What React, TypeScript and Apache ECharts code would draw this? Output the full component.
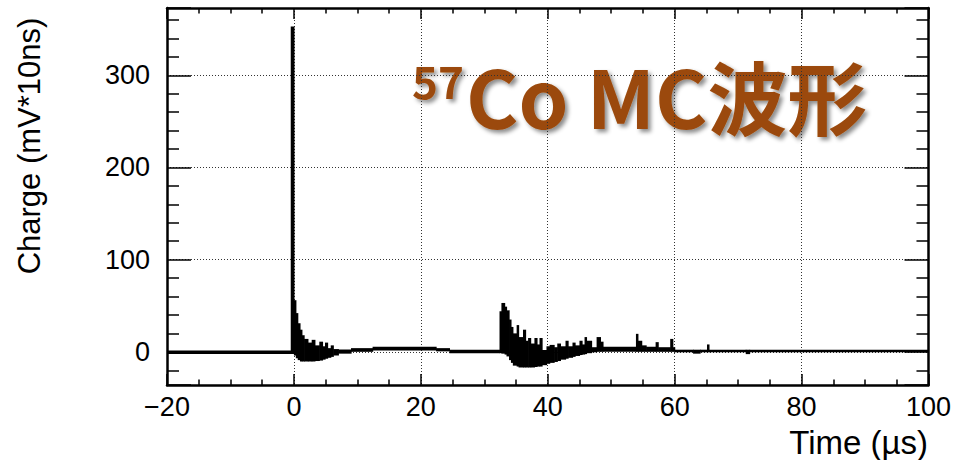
import React, { useEffect, useRef } from "react";
import * as echarts from "echarts";

// Histogram envelope: each bin spans [binEdges[i], binEdges[i+1]] in µs,
// filled between binLow[i] and binHigh[i] (mV*10ns)
const binEdges = [
  -20, -0.5, 0, 0.3, 0.6, 0.95, 1.25, 1.6, 2.2, 2.8, 3.3, 4.0, 4.5, 4.9, 5.3, 5.8, 6.2, 7.0, 9.0,
  12.4, 22.4, 24.5, 32.4, 32.7, 33.2, 33.5, 33.9, 34.2, 34.5, 35.1, 35.4, 36.1, 36.5, 36.9, 37.3,
  37.9, 38.3, 38.7, 39.1, 39.8, 40.3, 41.0, 41.5, 42.0, 42.8, 43.2, 43.9, 44.3, 45.0, 45.4, 45.8,
  46.1, 46.9, 47.7, 48.3, 48.7, 53.9, 54.2, 54.8, 55.5, 57.0, 57.4, 59.3, 59.7, 60.0, 62.9, 64.0,
  65.1, 65.4, 71.2, 71.8, 100,
];
const binLow = [
  -2.5, -2.5, -4, -7, -9, -10.5, -10.5, -10.5, -10.5, -10.5, -10, -9.5, -8.5, -7.5, -6.5, -5.5, -4,
  -2, 0, 1.5, 0.5, -1.5, -1.5, -2, -3, -5, -9, -12, -15, -16, -17, -17, -17, -17, -17, -16.5, -16,
  -16, -14.5, -13, -12, -11, -10, -8.5, -7.5, -6.5, -5.5, -4.5, -3.5, -3, -2.5, -1.5, -0.5, 0, 0,
  0, 0, 0, 0, 0, 0, 0, 0, 0, -0.5, -2, -0.5, -0.5, -0.5, -2.5, -0.5,
];
const binHigh = [
  1.4, 353, 56, 42, 31, 24, 18, 14, 10, 13, 7, 11, 6, 10, 4, 7, 3, 2.5, 4, 5.5, 4, 2.2, 44, 53, 49,
  45, 35, 27, 20, 29, 16, 24, 12, 15, 9, 15, 8, 15, 2, 6, 7.5, 5, 9, 6, 12, 6, 10, 7, 12, 8, 16, 12,
  5, 16, 11, 5.5, 19.5, 12, 7, 5.5, 10.5, 5, 14, 5, 2.3, 2.3, 2.3, 8, 2.3, 2.3, 2.3,
];

const xMin = -20;
const xMax = 100;
const xStep = 20;
const yMin = -36;
const yMax = 373;
const yLabelValues = [0, 100, 200, 300];

const titleSup = "57";
const titleMain = "Co MC波形";
const xTitle = "Time (µs)";
const yTitle = "Charge (mV*10ns)";

export default function App() {
  const ref = useRef<HTMLDivElement>(null);
  useEffect(() => {
    const chart = echarts.init(ref.current!, null, { renderer: "svg" });
    const data = binLow.map((lo, i) => [binEdges[i], binEdges[i + 1], lo, binHigh[i]]);
    const font = "Liberation Sans";
    const tickFont = { fontFamily: font, fontSize: 27, color: "#000" };
    const dotted = { color: "#333", width: 1, type: [1, 2] };
    const axisLine = { show: true, onZero: false, lineStyle: { color: "#000", width: 2.5 } };
    const xTick = { show: true, inside: true, length: 11, lineStyle: { color: "#000", width: 1.5 } };
    const xMinor = { show: true, splitNumber: 4, length: 5.5, lineStyle: { color: "#000", width: 1.5 } };
    const yTick = { show: true, inside: true, length: 24, lineStyle: { color: "#000", width: 1.5 } };
    const yMinor = { show: true, splitNumber: 5, length: 12, lineStyle: { color: "#000", width: 1.5 } };
    const titleStyle = {
      fill: "#9b4a0b",
      fontFamily: "Noto Sans CJK SC",
      fontWeight: "bold",
      textShadowColor: "rgba(0,0,0,0.45)",
      textShadowBlur: 4,
      textShadowOffsetX: 3,
      textShadowOffsetY: 3,
    };
    chart.setOption({
      animation: false,
      backgroundColor: "#fff",
      grid: { left: 167, right: 25, top: 8, bottom: 75 },
      xAxis: [
        {
          type: "value",
          position: "bottom",
          min: xMin,
          max: xMax,
          interval: xStep,
          axisLine,
          axisTick: xTick,
          minorTick: xMinor,
          axisLabel: {
            ...tickFont,
            margin: 8,
            formatter: (v: number) => String(v).replace("-", "\u2212"),
          },
          splitLine: { show: true, lineStyle: dotted },
        },
        {
          type: "value",
          position: "top",
          min: xMin,
          max: xMax,
          interval: xStep,
          axisLine,
          axisTick: xTick,
          minorTick: xMinor,
          axisLabel: { show: false },
          splitLine: { show: false },
        },
      ],
      yAxis: [
        {
          type: "value",
          position: "left",
          min: yMin,
          max: yMax,
          splitNumber: 4,
          axisLine,
          axisTick: yTick,
          minorTick: yMinor,
          axisLabel: {
            ...tickFont,
            margin: 17,
            showMinLabel: false,
            showMaxLabel: false,
            formatter: (v: number) => (yLabelValues.includes(v) ? String(v) : ""),
          },
          splitLine: { show: true, lineStyle: dotted },
        },
        {
          type: "value",
          position: "right",
          min: yMin,
          max: yMax,
          splitNumber: 4,
          axisLine,
          axisTick: yTick,
          minorTick: yMinor,
          axisLabel: { show: false },
          splitLine: { show: false },
        },
      ],
      series: [
        {
          type: "custom",
          xAxisIndex: 0,
          yAxisIndex: 0,
          clip: true,
          data,
          encode: { x: [0, 1], y: [2, 3] },
          renderItem: (_params: any, api: any) => {
            const p0 = api.coord([api.value(0), api.value(3)]);
            const p1 = api.coord([api.value(1), api.value(2)]);
            return {
              type: "rect",
              shape: {
                x: p0[0],
                y: p0[1],
                width: Math.max(p1[0] - p0[0] + 0.6, 1),
                height: Math.max(p1[1] - p0[1], 1),
              },
              style: { fill: "#000" },
            };
          },
        },
      ],
      graphic: [
        {
          type: "text",
          x: 29,
          y: 146,
          rotation: Math.PI / 2,
          style: {
            text: yTitle,
            fontFamily: font,
            fontSize: 31,
            fill: "#000",
            align: "center",
            verticalAlign: "middle",
          },
        },
        {
          type: "text",
          x: 928,
          y: 442,
          style: {
            text: xTitle,
            fontFamily: font,
            fontSize: 33,
            fill: "#000",
            align: "right",
            verticalAlign: "middle",
          },
        },
        {
          type: "text",
          x: 412,
          y: 80,
          style: { ...titleStyle, text: titleSup, fontSize: 44, align: "left", verticalAlign: "middle" },
        },
        {
          type: "text",
          x: 466,
          y: 94,
          style: { ...titleStyle, text: titleMain, fontSize: 80, align: "left", verticalAlign: "middle" },
        },
      ],
    });
    return () => chart.dispose();
  }, []);
  return (
    <div
      ref={ref}
      style={{ position: "fixed", left: 0, top: 0, width: 954, height: 460, background: "#fff" }}
    />
  );
}
